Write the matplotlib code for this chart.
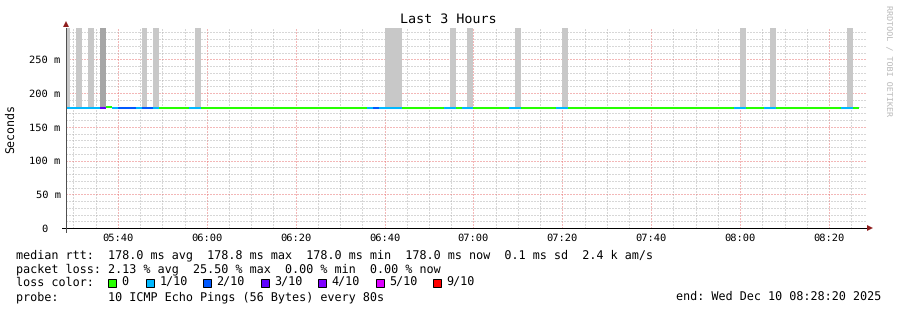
import matplotlib
matplotlib.use("Agg")
import matplotlib.pyplot as plt
import matplotlib.dates as mdates
from matplotlib.patches import Rectangle
from datetime import datetime, timedelta

FONT = "DejaVu Sans Mono"
plt.rcParams["lines.scale_dashes"] = False
plt.rcParams["text.hinting"] = "no_hinting"

# ---------------- data ----------------
end_time = datetime(2025, 12, 10, 8, 28, 20)
start_time = end_time - timedelta(hours=3)
first_step = datetime(2025, 12, 10, 5, 28, 0)   # start of first 80 s step
step_seconds = 80

# lost pings (of 10) per 80 s step
loss = [
    1, 1, 1, 1, 1, 1, 3, 0, 1, 2, 2, 2, 1, 2, 2, 1, 0, 0, 0, 0,
    0, 1, 1, 0, 0, 0, 0, 0, 0, 0, 0, 0, 0, 0, 0, 0, 0, 0, 0, 0,
    0, 0, 0, 0, 0, 0, 0, 0, 0, 0, 0, 1, 2, 1, 1, 1, 1, 0, 0, 0,
    0, 0, 0, 0, 1, 1, 0, 1, 1, 0, 0, 0, 0, 0, 0, 1, 1, 0, 0, 0,
    0, 0, 0, 1, 1, 0, 0, 0, 0, 0, 0, 0, 0, 0, 0, 0, 0, 0, 0, 0,
    0, 0, 0, 0, 0, 0, 0, 0, 0, 0, 0, 0, 0, 1, 1, 0, 0, 0, 1, 1,
    0, 0, 0, 0, 0, 0, 0, 0, 0, 0, 0, 1, 1, 0,
]

# median rtt (ms) per step
median_ms = [
    178.0, 178.0, 178.0, 178.0, 178.0, 178.0, 178.0, 178.8, 178.0, 178.0,
    178.0, 178.0, 178.0, 178.0, 178.0, 178.0, 178.0, 178.0, 178.0, 178.0,
    178.0, 178.0, 178.0, 178.0, 178.0, 178.0, 178.0, 178.0, 178.0, 178.0,
    178.0, 178.0, 178.0, 178.0, 178.0, 178.0, 178.0, 178.0, 178.0, 178.0,
    178.0, 178.0, 178.0, 178.0, 178.0, 178.0, 178.0, 178.0, 178.0, 178.0,
    178.0, 178.0, 178.0, 178.0, 178.0, 178.0, 178.0, 178.0, 178.0, 178.0,
    178.0, 178.0, 178.0, 178.0, 178.0, 178.0, 178.0, 178.0, 178.0, 178.0,
    178.0, 178.0, 178.0, 178.0, 178.0, 178.0, 178.0, 178.0, 178.0, 178.0,
    178.0, 178.0, 178.0, 178.0, 178.0, 178.0, 178.0, 178.0, 178.0, 178.0,
    178.0, 178.0, 178.0, 178.0, 178.0, 178.0, 178.0, 178.0, 178.0, 178.0,
    178.0, 178.0, 178.0, 178.0, 178.0, 178.0, 178.0, 178.0, 178.0, 178.0,
    178.0, 178.0, 178.0, 178.0, 178.0, 178.0, 178.0, 178.0, 178.0, 178.0,
    178.0, 178.0, 178.0, 178.0, 178.0, 178.0, 178.0, 178.0, 178.0, 178.0,
    178.0, 178.0, 178.0, 178.0,
]

# smoke (spread of pings) drawn as grey bars from the median upwards
smoke_steps = [0, 2, 4, 6, 13, 15, 22, 54, 55, 56, 65, 68, 76, 84, 114, 119, 132]
smoke_shade = ["#c8c8c8", "#c8c8c8", "#c8c8c8", "#a6a6a6", "#c8c8c8", "#c8c8c8",
               "#c8c8c8", "#c8c8c8", "#c8c8c8", "#c8c8c8", "#c8c8c8", "#c8c8c8",
               "#c8c8c8", "#c8c8c8", "#c8c8c8", "#c8c8c8", "#c8c8c8"]
smoke_top_ms = 300.0

# loss colour legend
loss_thresholds = [0, 1, 2, 3, 4, 5, 9]
loss_labels = ["0", "1/10", "2/10", "3/10", "4/10", "5/10", "9/10"]
loss_colors = ["#26ff00", "#00b8ff", "#0059ff", "#5e00ff", "#7e00ff", "#dd00ff", "#ff0000"]

y_max_ms = 296.4
y_ticks_ms = [0, 50, 100, 150, 200, 250]
y_tick_labels = ["0", "50 m", "100 m", "150 m", "200 m", "250 m"]

title = "Last 3 Hours"
y_label = "Seconds"
rtt_line = "median rtt:  178.0 ms avg  178.8 ms max  178.0 ms min  178.0 ms now  0.1 ms sd  2.4 k am/s"
loss_line = "packet loss: 2.13 % avg  25.50 % max  0.00 % min  0.00 % now"
probe_line = "probe:       10 ICMP Echo Pings (56 Bytes) every 80s"
end_line = "end: Wed Dec 10 08:28:20 2025"
watermark = "RRDTOOL / TOBI OETIKER"

# ---------------- figure ----------------
W, H = 897, 310
fig = plt.figure(figsize=(W / 100, H / 100), dpi=100)
fig.patch.set_facecolor("white")

L, R, T, B = 66, 866, 28, 228
ax = fig.add_axes([L / W, (H - B) / H, (R - L) / W, (B - T) / H])
ax.set_facecolor("white")


def px(x, y):
    return x / W, (H - y) / H


def color_for(l):
    c = loss_colors[0]
    for th, col in zip(loss_thresholds, loss_colors):
        if l >= th:
            c = col
    return c


t0 = mdates.date2num(first_step)
step_d = step_seconds / 86400.0
x_left = [t0 + k * step_d for k in range(len(loss))]

# smoke bars
ax.bar([x_left[k] for k in smoke_steps],
       [smoke_top_ms - median_ms[k] for k in smoke_steps],
       bottom=[median_ms[k] for k in smoke_steps],
       width=step_d, align="edge", color=smoke_shade, linewidth=0, zorder=1)

# median line coloured by loss
ax.hlines(median_ms, x_left, [x + step_d for x in x_left],
          colors=[color_for(l) for l in loss], linewidth=1.45, zorder=3,
          capstyle="butt")

ax.set_xlim(mdates.date2num(start_time), mdates.date2num(end_time))
ax.set_ylim(0, y_max_ms)

ax.xaxis.set_major_locator(mdates.MinuteLocator(byminute=[0, 20, 40]))
ax.xaxis.set_minor_locator(mdates.MinuteLocator(byminute=range(0, 60, 5)))
ax.xaxis.set_major_formatter(mdates.DateFormatter("%H:%M"))
ax.set_yticks(y_ticks_ms)
ax.set_yticks(range(10, 300, 10), minor=True)
ax.set_yticklabels([])

ax.set_axisbelow(True)
ax.grid(which="minor", color="#b0b0b0", linestyle=(0, (0.72, 1.44)),
        linewidth=0.72)
ax.grid(which="major", color="#e87070", linestyle=(0, (0.72, 1.44)),
        linewidth=0.72)

ax.tick_params(axis="x", which="both", length=0, pad=3.5, labelsize=7.5)
ax.tick_params(axis="y", which="both", length=0)
for lab in ax.get_xticklabels():
    lab.set_family(FONT)

for s in ["top", "right"]:
    ax.spines[s].set_visible(False)
ax.spines["left"].set_color("#505050")
ax.spines["bottom"].set_color("#000000")
ax.spines["left"].set_linewidth(0.72)
ax.spines["bottom"].set_linewidth(0.72)

# axis extensions and arrows
ax.plot([-0.005, 1.0], [0, 0], transform=ax.transAxes, color="black",
        linewidth=0.72, clip_on=False, zorder=4)
ax.plot([0, 0], [-0.02, 1.0], transform=ax.transAxes, color="#505050",
        linewidth=0.72, clip_on=False, zorder=4)
ax.plot([1.0055], [0], marker=">", markersize=4.5, color="#8f1d1d",
        transform=ax.transAxes, clip_on=False, zorder=5, markeredgewidth=0)
ax.plot([0], [1.02], marker="^", markersize=4.5, color="#8f1d1d",
        transform=ax.transAxes, clip_on=False, zorder=5, markeredgewidth=0)

# y tick labels (digits aligned, unit suffix)
for v, lab in zip(y_ticks_ms, y_tick_labels):
    off = -5.5 if " " in lab else -18.0
    ax.annotate(lab, xy=(0, v), xycoords=("axes fraction", "data"),
                xytext=(off, 0), textcoords="offset pixels", ha="right",
                va="center_baseline", fontsize=7.5, family=FONT, color="black")

# texts
fig.text(*px(448, 19.5), title, ha="center", va="center", fontsize=9.6,
         family=FONT, color="black")
fig.text(*px(11, 128), y_label, ha="center", va="center", rotation=90,
         fontsize=8.4, family=FONT, color="black")
fig.text(*px(887.5, 5), watermark, ha="center", va="top", rotation=270,
         fontsize=6.0, family=FONT, color="#b8b8b8")

FS = 8.45
row_base = [258.0, 272.0, 286.0, 300.0]
fig.text(*px(16, row_base[0]), rtt_line, ha="left", va="baseline", fontsize=FS, family=FONT)
fig.text(*px(16, row_base[1]), loss_line, ha="left", va="baseline", fontsize=FS, family=FONT)
fig.text(*px(16, row_base[2]), "loss color:", ha="left", va="baseline", fontsize=FS, family=FONT)
fig.text(*px(16, row_base[3]), probe_line, ha="left", va="baseline", fontsize=FS, family=FONT)
fig.text(*px(881, row_base[3]), end_line, ha="right", va="baseline", fontsize=FS, family=FONT)

box_x = [108, 146, 203, 261, 318, 376, 433]
for bx, lab, col in zip(box_x, loss_labels, loss_colors):
    fig.patches.append(Rectangle(px(bx, 286.5), 8 / W, 8 / H, transform=fig.transFigure,
                                 facecolor=col, edgecolor="black", linewidth=0.72))
    fig.text(*px(bx + 13.5, row_base[2]), lab, ha="left", va="baseline",
             fontsize=FS, family=FONT)

fig.savefig("out.png", dpi=100, facecolor="white")
